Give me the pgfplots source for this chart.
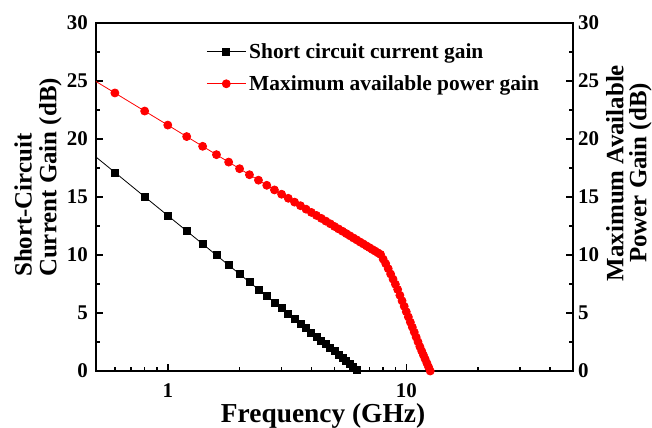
\documentclass[border=0pt]{standalone}
\usepackage{pgfplots}
\pgfplotsset{compat=1.18}
\usepackage{fontspec}
\setmainfont{Liberation Serif}
\newcommand{\tickfont}{\fontsize{21}{21}\selectfont\bfseries}
\newcommand{\legfont}{\fontsize{21.5}{21.5}\selectfont\bfseries}
\newcommand{\ylabfont}{\fontsize{25}{25}\selectfont\bfseries}
\newcommand{\rylabfont}{\fontsize{25}{23}\selectfont\bfseries}
\newcommand{\xlabfont}{\fontsize{27.5}{27.5}\selectfont\bfseries}
\pgfplotsset{legend image code/.code={\draw[mark repeat=2,mark phase=2,#1] plot coordinates {(0bp,0bp) (19.5bp,0bp) (39bp,0bp)};}}
\begin{document}
\begin{tikzpicture}
\begin{axis}[
  scale only axis, width=477bp, height=348bp,
  xmode=log, xmin=0.5, xmax=50, ymin=0, ymax=30,
  at={(0,0)}, anchor=south west,
  tick align=inside,
  major tick length=7bp, minor tick length=4bp,
  every tick/.style={black, line width=1.5bp},
  axis line style={line width=2bp},
  ytick={0,5,...,30}, minor ytick={2.5,7.5,...,27.5},
  /pgf/number format/assume math mode=true,
  tick label style={font=\tickfont},
  xtick={1,10}, xticklabels={1,10},
  minor xtick={0.5,0.6,0.7,0.8,0.9,2,3,4,5,6,7,8,9,20,30,40,50},
  xtick pos=left, ytick pos=left,
  yticklabel style={anchor=east, inner sep=0pt, xshift=-8bp},
  xticklabel style={anchor=base, inner sep=0pt, yshift=-26bp},
  xlabel={Frequency (GHz)},
  xlabel style={at={(axis description cs:0.476,-0.1466)}, anchor=base, font=\xlabfont, inner sep=0pt},
  ylabel={Short-Circuit\\Current Gain (dB)},
  ylabel style={at={(axis description cs:-0.0713,0.270)}, anchor=south west, align=left, font=\ylabfont, inner sep=0pt},
  legend style={at={(axis description cs:0.231,0.951)}, anchor=north west, draw=none, fill=none,
    font=\legfont, inner sep=0pt, row sep=10bp, nodes={inner sep=3bp}},
  legend cell align=left,
]
\addplot[black, line width=0.8bp, mark=square*, mark size=3.5bp, mark options={solid}] coordinates {
(0.4,20.07)(0.6,17.12)(0.8,15.02)(1.0,13.40)(1.2,12.07)(1.4,10.95)(1.6,9.98)(1.8,9.12)(2.0,8.36)(2.2,7.66)(2.4,7.03)(2.6,6.45)(2.8,5.91)(3.0,5.41)(3.2,4.94)(3.4,4.50)(3.6,4.08)(3.8,3.69)(4.0,3.32)(4.2,2.96)(4.4,2.62)(4.6,2.30)(4.8,1.99)(5.0,1.69)(5.2,1.41)(5.4,1.13)(5.6,0.87)(5.8,0.61)(6.0,0.37)(6.2,0.13)
};
\addlegendentry{Short circuit current gain}
\addplot[red, line width=0.8bp, mark=*, mark size=4bp, mark options={solid, fill=red}] coordinates {
(0.4,26.17)(0.6,23.97)(0.8,22.41)(1.0,21.20)(1.2,20.21)(1.4,19.37)(1.6,18.65)(1.8,18.01)(2.0,17.44)(2.2,16.92)(2.4,16.45)(2.6,16.01)(2.8,15.61)(3.0,15.24)(3.2,14.89)(3.4,14.56)(3.6,14.25)(3.8,13.95)(4.0,13.67)(4.2,13.41)(4.4,13.16)(4.6,12.92)(4.8,12.69)(5.0,12.46)(5.2,12.25)(5.4,12.05)(5.6,11.85)(5.8,11.66)(6.0,11.47)(6.2,11.30)(6.4,11.12)(6.6,10.96)(6.8,10.79)(7.0,10.64)(7.2,10.48)(7.4,10.34)(7.6,10.19)(7.8,10.05)(8.0,9.64)(8.2,9.25)(8.4,8.82)(8.6,8.36)(8.8,7.92)(9.0,7.48)(9.2,7.03)(9.4,6.53)(9.6,6.05)(9.8,5.58)(10.0,5.11)(10.2,4.66)(10.4,4.21)(10.6,3.78)(10.8,3.35)(11.0,2.92)(11.2,2.51)(11.4,2.10)(11.6,1.73)(11.8,1.37)(12.0,1.02)(12.2,0.68)(12.4,0.34)(12.6,0.00)
};
\addlegendentry{Maximum available power gain}
\end{axis}
\begin{axis}[
  scale only axis, width=477bp, height=348bp,
  xmode=log, xmin=0.5, xmax=50, ymin=0, ymax=30,
  at={(0,0)}, anchor=south west,
  tick align=inside,
  major tick length=7bp, minor tick length=4bp,
  every tick/.style={black, line width=1.5bp},
  axis line style={line width=2bp},
  ytick={0,5,...,30}, minor ytick={2.5,7.5,...,27.5},
  /pgf/number format/assume math mode=true,
  tick label style={font=\tickfont},
  axis x line=none, axis y line*=right,
  ytick pos=right, yticklabel pos=right,
  yticklabel style={anchor=west, inner sep=0pt, xshift=5bp},
]
\end{axis}
\node[rotate=90, anchor=north, align=center, font=\rylabfont, inner sep=0pt] at (510bp,198bp) {Maximum Available\\Power Gain (dB)};
\pgfresetboundingbox
\useasboundingbox (-96bp,-57bp) rectangle (556bp,371bp);
\end{tikzpicture}
\end{document}
